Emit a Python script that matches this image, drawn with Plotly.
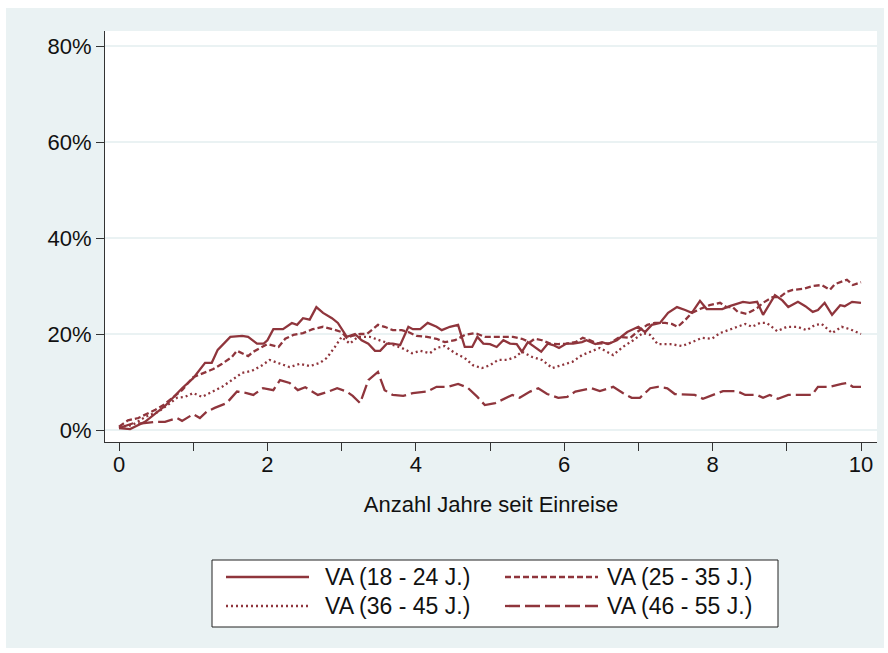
import plotly.graph_objects as go

# ---------------- data ----------------
series_names = ["VA (18 - 24 J.)", "VA (25 - 35 J.)", "VA (36 - 45 J.)", "VA (46 - 55 J.)"]

x_18_24 = [0, 0.15, 0.35, 0.62, 0.85, 1.0, 1.16, 1.25, 1.33, 1.5,
           1.66, 1.74, 1.86, 1.95, 2.0, 2.08, 2.21, 2.33, 2.4, 2.48,
           2.57, 2.66, 2.75, 2.87, 2.95, 3.07, 3.18, 3.27, 3.36, 3.45,
           3.52, 3.61, 3.69, 3.79, 3.9, 3.96, 4.06, 4.16, 4.28, 4.35,
           4.46, 4.57, 4.66, 4.76, 4.83, 4.91, 5.0, 5.09, 5.18, 5.27,
           5.36, 5.43, 5.51, 5.6, 5.69, 5.78, 5.85, 5.93, 6.03, 6.12,
           6.24, 6.3, 6.42, 6.51, 6.59, 6.71, 6.85, 7.0, 7.09, 7.18,
           7.29, 7.4, 7.52, 7.63, 7.72, 7.83, 7.92, 8.03, 8.13, 8.23,
           8.34, 8.41, 8.5, 8.6, 8.68, 8.84, 8.94, 9.02, 9.15, 9.25,
           9.35, 9.42, 9.51, 9.61, 9.72, 9.78, 9.88, 10.0]
y_18_24 = [0.4, 0.2, 1.7, 5.0, 8.7, 10.8, 14.0, 14.0, 16.7, 19.4,
           19.6, 19.4, 18.0, 18.0, 18.7, 21.0, 21.0, 22.3, 21.9, 23.3,
           23.0, 25.6, 24.4, 23.3, 22.3, 19.4, 20.0, 18.7, 18.0, 16.5,
           16.5, 18.0, 18.0, 17.7, 21.5, 21.0, 21.0, 22.3, 21.5, 20.8,
           21.5, 21.9, 17.3, 17.3, 19.4, 18.0, 17.9, 17.3, 18.7, 18.0,
           17.9, 16.3, 18.3, 17.3, 16.3, 18.0, 17.7, 17.1, 18.0, 18.0,
           18.3, 18.7, 17.9, 18.3, 17.9, 18.7, 20.4, 21.5, 20.4, 21.9,
           22.3, 24.4, 25.6, 25.0, 24.4, 26.9, 25.2, 25.2, 25.2, 25.8,
           26.3, 26.7, 26.5, 26.7, 24.0, 28.1, 27.0, 25.6, 26.7, 25.8,
           24.6, 25.0, 26.5, 24.0, 26.0, 25.8, 26.7, 26.5]

x_25_35 = [0, 0.12, 0.26, 0.35, 0.49, 0.6, 0.85, 1.0, 1.16, 1.27,
           1.39, 1.52, 1.59, 1.74, 1.81, 1.93, 2.0, 2.15, 2.24, 2.35,
           2.48, 2.61, 2.75, 2.88, 3.0, 3.07, 3.14, 3.25, 3.34, 3.42,
           3.49, 3.58, 3.69, 3.81, 3.9, 4.01, 4.15, 4.28, 4.39, 4.53,
           4.66, 4.8, 4.93, 5.04, 5.18, 5.31, 5.43, 5.54, 5.6, 5.7,
           5.81, 5.92, 6.03, 6.15, 6.25, 6.35, 6.45, 6.62, 6.75, 6.89,
           6.98, 7.12, 7.22, 7.36, 7.45, 7.53, 7.63, 7.72, 7.83, 7.96,
           8.1, 8.19, 8.27, 8.34, 8.46, 8.6, 8.68, 8.81, 8.91, 9.0,
           9.08, 9.22, 9.35, 9.47, 9.58, 9.65, 9.81, 9.89, 10.0]
y_25_35 = [0.7, 2.0, 2.5, 3.1, 4.2, 5.2, 8.3, 11.0, 12.1, 12.7,
           13.8, 15.2, 16.5, 15.4, 16.3, 17.3, 17.9, 17.3, 19.0, 19.8,
           20.2, 21.0, 21.5, 21.0, 20.4, 19.2, 19.6, 20.0, 20.0, 21.0,
           21.9, 21.5, 20.8, 20.8, 20.4, 19.6, 19.4, 19.0, 18.3, 18.7,
           19.8, 20.2, 19.4, 19.4, 19.4, 19.4, 19.0, 18.3, 19.0, 18.7,
           18.0, 17.9, 18.0, 18.3, 19.2, 18.7, 18.0, 18.1, 19.4, 19.2,
           20.4, 21.9, 22.3, 22.3, 22.1, 21.5, 22.9, 24.4, 25.2, 26.0,
           26.5, 25.6, 25.6, 24.6, 24.2, 25.4, 26.5, 27.7, 27.7, 28.8,
           29.2, 29.4, 30.0, 30.2, 29.2, 30.4, 31.3, 30.2, 30.8]

x_36_45 = [0, 0.18, 0.35, 0.53, 0.69, 0.78, 0.89, 1.0, 1.12, 1.25,
           1.39, 1.52, 1.66, 1.79, 1.93, 2.03, 2.17, 2.3, 2.44, 2.57,
           2.71, 2.8, 2.91, 3.0, 3.11, 3.22, 3.38, 3.52, 3.65, 3.81,
           3.95, 4.06, 4.19, 4.28, 4.39, 4.53, 4.66, 4.77, 4.89, 5.0,
           5.11, 5.23, 5.34, 5.43, 5.57, 5.7, 5.84, 5.97, 6.11, 6.24,
           6.37, 6.48, 6.66, 6.79, 6.93, 7.06, 7.16, 7.26, 7.43, 7.59,
           7.72, 7.86, 7.99, 8.1, 8.21, 8.33, 8.44, 8.53, 8.64, 8.73,
           8.87, 9.0, 9.14, 9.27, 9.38, 9.47, 9.61, 9.74, 9.85, 10.0]
y_36_45 = [0.6, 1.0, 2.7, 3.8, 5.6, 6.7, 6.9, 7.7, 6.9, 7.9,
           9.0, 10.4, 11.9, 12.3, 13.5, 14.6, 13.8, 13.1, 13.8, 13.3,
           14.0, 15.0, 17.3, 19.4, 18.0, 19.4, 19.4, 18.7, 18.0, 17.1,
           16.0, 16.5, 16.0, 17.1, 17.5, 16.0, 15.0, 13.5, 12.9, 13.5,
           14.6, 14.6, 15.2, 16.3, 15.2, 14.6, 12.9, 13.5, 14.2, 15.6,
           16.5, 17.1, 15.6, 17.3, 18.7, 20.2, 19.8, 17.9, 17.9, 17.5,
           18.3, 19.2, 19.0, 20.2, 20.8, 21.5, 22.1, 21.5, 22.3, 22.3,
           20.6, 21.5, 21.5, 20.8, 21.9, 22.1, 20.2, 21.5, 21.0, 20.0]

x_46_55 = [0, 0.19, 0.31, 0.49, 0.62, 0.78, 0.85, 1.0, 1.09, 1.18,
           1.29, 1.45, 1.59, 1.72, 1.81, 1.94, 2.08, 2.17, 2.3, 2.41,
           2.51, 2.68, 2.82, 2.94, 3.07, 3.15, 3.25, 3.36, 3.49, 3.58,
           3.69, 3.83, 3.96, 4.15, 4.28, 4.43, 4.57, 4.7, 4.83, 4.93,
           5.07, 5.23, 5.3, 5.4, 5.54, 5.65, 5.77, 5.92, 6.04, 6.15,
           6.25, 6.37, 6.48, 6.66, 6.79, 6.91, 7.02, 7.16, 7.26, 7.39,
           7.49, 7.65, 7.76, 7.87, 8.0, 8.14, 8.33, 8.44, 8.6, 8.68,
           8.77, 8.88, 9.02, 9.18, 9.34, 9.42, 9.58, 9.74, 9.81, 9.89,
           10.0]
y_46_55 = [0.4, 1.4, 1.4, 1.7, 1.7, 2.5, 1.9, 3.3, 2.5, 3.8,
           4.6, 5.6, 8.0, 7.7, 7.3, 8.7, 8.3, 10.4, 9.8, 8.3,
           8.9, 7.3, 8.0, 8.7, 8.0, 7.1, 5.6, 10.4, 12.1, 8.3,
           7.3, 7.1, 7.7, 8.0, 9.0, 9.0, 9.6, 8.8, 6.9, 5.2,
           5.6, 6.9, 7.3, 6.7, 8.0, 8.7, 7.5, 6.7, 6.9, 8.0,
           8.3, 8.7, 8.1, 9.0, 7.7, 6.7, 6.7, 8.7, 9.0, 8.7,
           7.5, 7.3, 7.3, 6.5, 7.3, 8.1, 8.1, 7.3, 7.3, 6.7,
           7.3, 6.5, 7.3, 7.3, 7.3, 9.0, 9.0, 9.6, 9.8, 9.0,
           9.0]

x_tick_vals = [0, 1, 2, 3, 4, 5, 6, 7, 8, 9, 10]
x_tick_text = ["0", "", "2", "", "4", "", "6", "", "8", "", "10"]
y_tick_vals = [0, 20, 40, 60, 80]
y_tick_text = ["0%", "20%", "40%", "60%", "80%"]
x_title = "Anzahl Jahre seit Einreise"

# ---------------- styling ----------------
W, H = 888, 653
L, R, T, B = 105, 877, 31, 442          # plot area in pixels
LINE_COLOR = "#8F353C"
BG_BLUE = "#EAF2F3"
FONT = "Arial, Liberation Sans, sans-serif"
dashes = ["solid", "6px,3px", "2px,3px", "15px,5px"]
xs = [x_18_24, x_25_35, x_36_45, x_46_55]
ys = [y_18_24, y_25_35, y_36_45, y_46_55]


def px_x(p):
    return (p - L) / (R - L)


def px_y(p):
    return (B - p) / (B - T)


fig = go.Figure()
for name, xv, yv, d in zip(series_names, xs, ys, dashes):
    assert len(xv) == len(yv)
    fig.add_trace(go.Scatter(x=xv, y=yv, mode="lines", name=name,
                             line=dict(color=LINE_COLOR, width=2.3, dash=d),
                             showlegend=False, hoverinfo="skip"))

shapes = [
    # outer light blue-gray graph region
    dict(type="rect", xref="paper", yref="paper", layer="below",
         x0=px_x(6), x1=px_x(884), y0=px_y(648), y1=px_y(8),
         fillcolor=BG_BLUE, line=dict(width=0)),
    # white plot region
    dict(type="rect", xref="paper", yref="paper", layer="below",
         x0=0, x1=1, y0=0, y1=1, fillcolor="white", line=dict(width=0)),
    # legend box
    dict(type="rect", xref="paper", yref="paper", layer="above",
         x0=px_x(212), x1=px_x(778), y0=px_y(627), y1=px_y(560),
         fillcolor="white", line=dict(color="#222222", width=1)),
]
annotations = []
legend_rows = [577, 606]
legend_line_x = [(226, 309), (505, 598)]
legend_text_x = [323, 605]
for i, (name, d) in enumerate(zip(series_names, dashes)):
    row, col = divmod(i, 2)
    yy = px_y(legend_rows[row])
    x0, x1 = legend_line_x[col]
    shapes.append(dict(type="line", xref="paper", yref="paper", layer="above",
                       x0=px_x(x0), x1=px_x(x1), y0=yy, y1=yy,
                       line=dict(color=LINE_COLOR, width=2.3, dash=d)))
    annotations.append(dict(xref="paper", yref="paper", x=px_x(legend_text_x[col]), y=yy,
                            text=name, showarrow=False, xanchor="left", yanchor="middle",
                            font=dict(family=FONT, size=23, color="#111111")))

fig.update_layout(
    width=W, height=H,
    margin=dict(l=L, r=W - R, t=T, b=H - B, pad=0),
    paper_bgcolor="white", plot_bgcolor="white",
    font=dict(family=FONT, size=22, color="#111111"),
    shapes=shapes, annotations=annotations,
    showlegend=False,
    xaxis=dict(range=[(L - 119) / 74.2, (R - 119) / 74.2],
               tickvals=x_tick_vals, ticktext=x_tick_text,
               ticks="outside", ticklen=8, tickwidth=1, tickcolor="#333333",
               ticklabelstandoff=-5,
               showline=True, linecolor="#333333", linewidth=1,
               showgrid=False, zeroline=False,
               tickfont=dict(size=22),
               title=dict(text=x_title, font=dict(size=22), standoff=20)),
    yaxis=dict(range=[(430 - B) / 4.8, (430 - T) / 4.8],
               tickvals=y_tick_vals, ticktext=y_tick_text,
               ticks="outside", ticklen=8, tickwidth=1, tickcolor="#333333",
               showline=True, linecolor="#333333", linewidth=1,
               showgrid=True, gridcolor=BG_BLUE, gridwidth=1.5,
               zeroline=False, tickfont=dict(size=22)),
)

fig.write_html("out.html")
